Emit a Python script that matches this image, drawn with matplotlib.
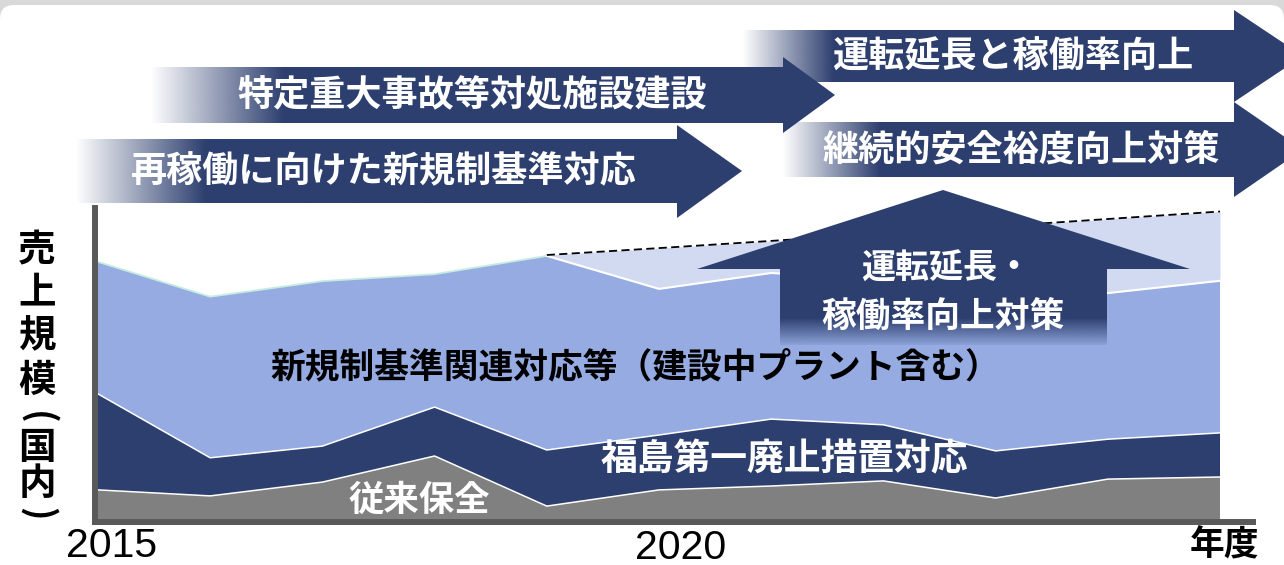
import numpy as np
import matplotlib
matplotlib.use("Agg")
import matplotlib.pyplot as plt
from matplotlib.patches import Polygon, FancyBboxPatch
from matplotlib.colors import to_rgb

plt.rcParams['font.family'] = ['Noto Sans CJK JP', 'DejaVu Sans']

# ---------------- data (arbitrary sales-scale units) ----------------
years = [2015, 2016, 2017, 2018, 2019, 2020, 2021, 2022, 2023, 2024, 2025]
conventional = [9.7, 7.7, 12.3, 21.0, 4.3, 9.7, 11.0, 12.7, 7.0, 13.3, 14.0]      # 従来保全
fukushima = [32.0, 12.7, 12.0, 16.3, 18.7, 18.3, 22.3, 18.7, 15.7, 13.3, 14.7]     # 福島第一廃止措置対応
new_regulation = [44.0, 53.7, 55.0, 44.3, 64.7, 48.7, 48.7, 48.3, 51.0, 48.7, 50.7]  # 新規制基準関連対応等
ext_years = [2019, 2020, 2021, 2022, 2023, 2024, 2025]
ext_total = [88.0, 90.3, 92.7, 95.2, 97.5, 100.0, 102.5]  # 運転延長・稼働率向上対策 (upper bound)

layer_labels = ['従来保全', '福島第一廃止措置対応', '新規制基準関連対応等（建設中プラント含む）']
x_tick_labels = ['2015', '2020']
y_label_chars = ['売', '上', '規', '模', '(', '国', '内', ')']
x_unit = '年度'
arrow_labels = ['運転延長と稼働率向上', '継続的安全裕度向上対策', '再稼働に向けた新規制基準対応',
                '特定重大事故等対処施設建設']
big_arrow_lines = ['運転延長・', '稼働率向上対策']

NAVY = '#2D3F6F'
LIGHT = '#95ABE2'
GRAY = '#808080'
LAV = '#D1DAF1'
SPINE = '#595959'

W, H = 1284, 565
fig = plt.figure(figsize=(W / 100, H / 100), dpi=100)
fig.patch.set_facecolor('#D9D9D9')

# background white panel
bg = fig.add_axes([0, 0, 1, 1], zorder=0)
bg.axis('off')
bg.add_patch(FancyBboxPatch((0, 5), W, H + 40, boxstyle='round,pad=0,rounding_size=14',
                            fc='white', ec='none'))
bg.set_xlim(0, W)
bg.set_ylim(H, 0)

# ---------------- main chart ----------------
ax = fig.add_axes([95 / W, 1 - 522 / H, (1253 - 95) / W, (522 - 208) / H], zorder=1)
ax.patch.set_alpha(0)
ax.stackplot(years, conventional, fukushima, new_regulation,
             colors=[GRAY, NAVY, LIGHT], linewidth=0)
s1 = np.array(conventional)
s2 = s1 + np.array(fukushima)
s3 = s2 + np.array(new_regulation)
i0 = years.index(ext_years[0])
ax.fill_between(ext_years, s3[i0:], ext_total, color=LAV, linewidth=0)
ax.plot(years, s1, color='white', lw=1.1)
ax.plot(years, s2, color='white', lw=1.1)
ax.plot(years[:i0 + 1], s3[:i0 + 1], color='#C6ECE2', lw=1.3)
ax.plot(years[i0:], s3[i0:], color='white', lw=1.5)
ax.plot(ext_years, ext_total, color='black', lw=1.3, ls=(0, (4.5, 2.4)))

ax.set_xlim(2015 - 3 / 112.2, 2025 + 33 / 112.2)
ax.set_ylim(-1, 311 / 3)
for s in ['top', 'right']:
    ax.spines[s].set_visible(False)
for s in ['left', 'bottom']:
    ax.spines[s].set_color(SPINE)
    ax.spines[s].set_linewidth(4.3)
ax.set_xticks([])
ax.set_yticks([])

# ---------------- overlay: arrows & texts ----------------
ov = fig.add_axes([0, 0, 1, 1], zorder=5)
ov.axis('off')
ov.patch.set_alpha(0)
ov.set_autoscale_on(False)
ov.set_xlim(0, W)
ov.set_ylim(H, 0)
navy_rgb = to_rgb(NAVY)


def grad_arrow(x0, xg, xb, xt, yb0, yb1, yh0, yh1, label, tx):
    ym = (yb0 + yb1) / 2
    verts = [(x0, yb0), (xb, yb0), (xb, yh0), (xt, ym), (xb, yh1), (xb, yb1), (x0, yb1)]
    poly = Polygon(verts, closed=True, fc='none', ec='none')
    ov.add_patch(poly)
    n = 400
    xs = np.linspace(x0, xt, n)
    frac = np.clip((xs - x0) / (xg - x0), 0, 1)
    rgba = np.zeros((1, n, 4))
    rgba[..., :3] = navy_rgb
    rgba[..., 3] = frac
    im = ov.imshow(rgba, extent=(x0, xt, yh1, yh0), aspect='auto', interpolation='bilinear', zorder=2)
    im.set_clip_path(poly)
    ov.text(tx, ym + 1, label, color='white', fontsize=26, fontweight='bold',
            ha='center', va='center', zorder=3)


grad_arrow(742, 833, 1234, 1303, 30, 82, 10, 102, arrow_labels[0], 1013)
grad_arrow(782, 879, 1234, 1303, 122, 177, 102, 197, arrow_labels[1], 1021)
grad_arrow(75, 205, 677, 742, 139, 203, 125, 218, arrow_labels[2], 384)
grad_arrow(150, 283, 783, 835, 67, 123, 57, 133, arrow_labels[3], 472)

# big upward arrow
bverts = [(697, 269), (943, 190), (1190, 269), (1107, 269), (1107, 345), (780, 345), (780, 269)]
bpoly = Polygon(bverts, closed=True, fc='none', ec='none')
ov.add_patch(bpoly)
ys = np.linspace(190, 345, 300)
alpha = np.where(ys < 318, 1.0, 1.0 - 0.9 * (ys - 318) / (345 - 318))
brgba = np.zeros((300, 1, 4))
brgba[..., :3] = navy_rgb
brgba[:, 0, 3] = alpha
bim = ov.imshow(brgba, extent=(697, 1190, 345, 190), aspect='auto', interpolation='bilinear',
                origin='upper', zorder=2)
bim.set_clip_path(bpoly)
ov.text(946, 268, big_arrow_lines[0], color='white', fontsize=24.5, fontweight='bold',
        ha='center', va='center', zorder=3)
ov.text(943, 317, big_arrow_lines[1], color='white', fontsize=25, fontweight='bold',
        ha='center', va='center', zorder=3)

# layer labels
ov.text(419, 500, layer_labels[0], color='white', fontsize=25.5, fontweight='bold',
        ha='center', va='center', zorder=3)
ov.text(784, 460, layer_labels[1], color='white', fontsize=26.5, fontweight='bold',
        ha='center', va='center', zorder=3)
ov.text(635, 367, layer_labels[2], color='black', fontsize=25, fontweight='bold',
        ha='center', va='center', zorder=3)

# y label (vertical, stacked characters; parentheses turned for vertical writing)
for ch, yc in zip(y_label_chars, [250, 292, 336, 380, 418, 447, 484, 514]):
    if ch in '()':
        ov.text(37, yc, ch, color='black', fontsize=26, fontweight='bold', ha='center',
                va='center', rotation=-90, rotation_mode='anchor')
    else:
        ov.text(37, yc, ch, color='black', fontsize=27, fontweight='bold', ha='center', va='center')

# x labels
ov.text(112, 546, x_tick_labels[0], family=['Liberation Sans', 'DejaVu Sans'], fontsize=29.5,
        ha='center', va='center', color='black')
ov.text(681, 548, x_tick_labels[1], family=['Liberation Sans', 'DejaVu Sans'], fontsize=29.5,
        ha='center', va='center', color='black')
ov.text(1224, 545, x_unit, fontsize=25, fontweight='bold', ha='center', va='center', color='black')

ov.set_xlim(0, W)
ov.set_ylim(H, 0)
fig.savefig('out.png', dpi=100, facecolor=fig.get_facecolor())
